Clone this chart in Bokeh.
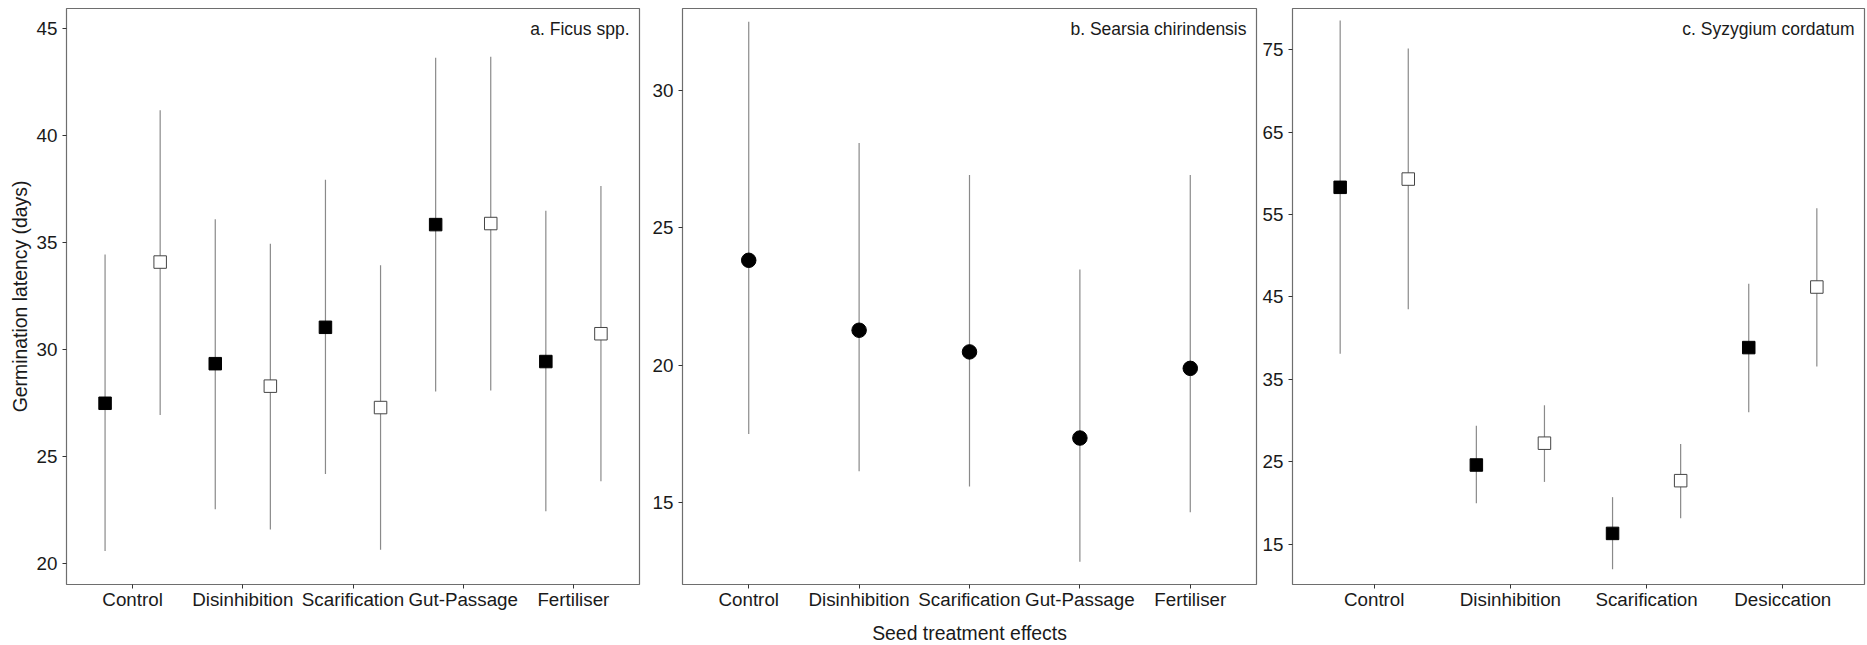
from bokeh.plotting import figure
from bokeh.layouts import row
from bokeh.models import Range1d, FixedTicker, Label, ColumnDataSource
from bokeh.embed import file_html
from bokeh.resources import INLINE

# ---------------- data ----------------
# a. Ficus spp. (two groups: filled / open)
a_cats = ["Control", "Disinhibition", "Scarification", "Gut-Passage", "Fertiliser"]
a_fill_mean = [27.5, 29.35, 31.05, 35.85, 29.45]
a_fill_low = [20.6, 22.55, 24.2, 28.05, 22.45]
a_fill_high = [34.45, 36.1, 37.95, 43.65, 36.5]
a_open_mean = [34.1, 28.3, 27.3, 35.9, 30.75]
a_open_low = [26.95, 21.6, 20.65, 28.1, 23.85]
a_open_high = [41.2, 34.95, 33.95, 43.7, 37.65]
a_ticks = [20, 25, 30, 35, 40, 45]

# b. Searsia chirindensis (single group)
b_cats = ["Control", "Disinhibition", "Scarification", "Gut-Passage", "Fertiliser"]
b_mean = [23.82, 21.27, 20.48, 17.34, 19.88]
b_low = [17.49, 16.13, 15.57, 12.83, 14.63]
b_high = [32.52, 28.1, 26.93, 23.48, 26.93]
b_ticks = [15, 20, 25, 30]

# c. Syzygium cordatum (two groups: filled / open)
c_cats = ["Control", "Disinhibition", "Scarification", "Desiccation"]
c_fill_mean = [58.3, 24.6, 16.3, 38.85]
c_fill_low = [38.1, 19.95, 11.95, 31.0]
c_fill_high = [78.55, 29.35, 20.7, 46.6]
c_open_mean = [59.3, 27.25, 22.7, 46.2]
c_open_low = [43.5, 22.55, 18.15, 36.55]
c_open_high = [75.15, 31.85, 27.15, 55.75]
c_ticks = [15, 25, 35, 45, 55, 65, 75]

# ---------------- style ----------------
FONT = "Liberation Sans"
TXT = "#1a1a1a"
BAR = "#8a8a8a"
FRAME = "#6e6e6e"
DODGE = 0.25
FRAME_H = 576


def make_fig(cats, y_lo, y_hi, ticks, frame_w, bl, br, ylabel=None, xlabel=None):
    p = figure(
        output_backend="svg", toolbar_location=None,
        frame_width=frame_w, frame_height=FRAME_H,
        min_border_left=bl, min_border_right=br, min_border_top=8, min_border_bottom=55,
        x_range=Range1d(0.4, len(cats) + 0.6), y_range=Range1d(y_lo, y_hi),
    )
    p.grid.visible = False
    p.background_fill_color = "white"
    p.border_fill_color = "white"
    p.outline_line_color = FRAME
    p.outline_line_width = 1.2
    for ax in (p.xaxis[0], p.yaxis[0]):
        ax.axis_line_color = None
        ax.major_tick_line_color = "#333333"
        ax.major_tick_in = 0
        ax.major_tick_out = 4
        ax.minor_tick_line_color = None
        ax.major_label_text_font = FONT
        ax.major_label_text_font_size = "18.8px"
        ax.major_label_text_color = TXT
        ax.axis_label_text_font = FONT
        ax.axis_label_text_font_size = "19.4px"
        ax.axis_label_text_font_style = "normal"
        ax.axis_label_text_color = TXT
    p.xaxis.ticker = FixedTicker(ticks=list(range(1, len(cats) + 1)))
    p.xaxis.major_label_overrides = {i + 1: c for i, c in enumerate(cats)}
    p.xaxis.major_label_standoff = 0
    p.yaxis.ticker = FixedTicker(ticks=ticks)
    p.yaxis.major_label_standoff = 5
    if ylabel:
        p.yaxis.axis_label = ylabel
        p.yaxis.axis_label_standoff = 3
    if xlabel:
        p.xaxis.axis_label = xlabel
        p.xaxis.axis_label_standoff = 9
    return p


def add_group(p, xs, mean, low, high, marker, fill, line, size):
    src = ColumnDataSource(dict(x=xs, m=mean, lo=low, hi=high))
    p.segment(x0="x", y0="lo", x1="x", y1="hi", source=src, line_color=BAR, line_width=1.2)
    p.scatter(x="x", y="m", source=src, marker=marker, size=size,
              fill_color=fill, line_color=line, line_width=1)


def add_title(p, text):
    p.add_layout(Label(x=p.x_range.end, y=p.y_range.end, x_offset=-10, y_offset=-10,
                       text=text, text_align="right", text_baseline="top",
                       text_font=FONT, text_font_size="17.5px", text_color=TXT))


# panel a
pa = make_fig(a_cats, 19.03, 45.95, a_ticks, 573, 66, 5, ylabel="Germination latency (days)")
xa = list(range(1, len(a_cats) + 1))
add_group(pa, [x - DODGE for x in xa], a_fill_mean, a_fill_low, a_fill_high, "square", "black", "black", 12.5)
add_group(pa, [x + DODGE for x in xa], a_open_mean, a_open_low, a_open_high, "square", "white", "#444444", 12.5)
add_title(pa, "a. Ficus spp.")

# panel b
pb = make_fig(b_cats, 12.0, 33.0, b_ticks, 574, 38, 2, xlabel="Seed treatment effects")
xb = list(range(1, len(b_cats) + 1))
add_group(pb, xb, b_mean, b_low, b_high, "circle", "black", "black", 14.5)
add_title(pb, "b. Searsia chirindensis")

# panel c
pc = make_fig(c_cats, 10.1, 80.0, c_ticks, 572, 34, 2)
xc = list(range(1, len(c_cats) + 1))
add_group(pc, [x - DODGE for x in xc], c_fill_mean, c_fill_low, c_fill_high, "square", "black", "black", 12.5)
add_group(pc, [x + DODGE for x in xc], c_open_mean, c_open_low, c_open_high, "square", "white", "#444444", 12.5)
add_title(pc, "c. Syzygium cordatum")

layout = row(pa, pb, pc, spacing=0)
open("out.html", "w").write(file_html(layout, INLINE))
